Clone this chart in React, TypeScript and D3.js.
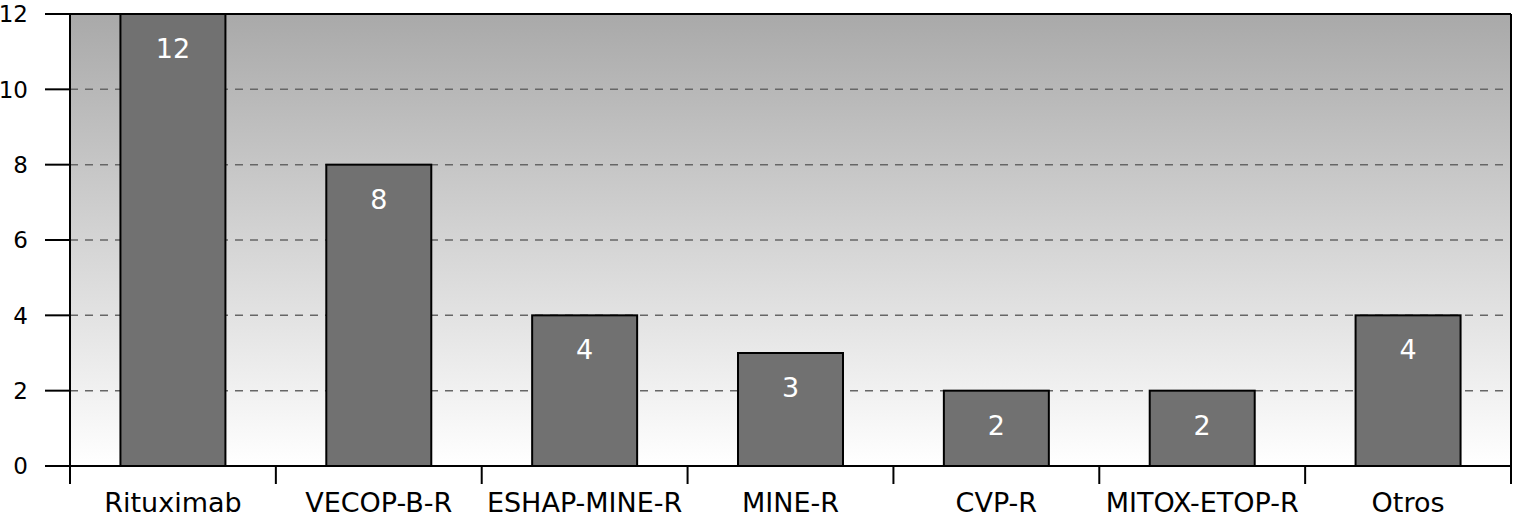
import React from "react";
import * as d3 from "d3";

const categories = ["Rituximab", "VECOP-B-R", "ESHAP-MINE-R", "MINE-R", "CVP-R", "MITOX-ETOP-R", "Otros"];
const values = [12, 8, 4, 3, 2, 2, 4];
const yTicks = [0, 2, 4, 6, 8, 10, 12];

export default function App() {
  const W = 1513, H = 518;
  const left = 70, right = 1511, top = 14, bottom = 466;
  const x = d3.scaleBand<string>().domain(categories).range([left, right]).paddingInner(0).paddingOuter(0);
  const y = d3.scaleLinear().domain([0, 12]).range([bottom, top]);
  const bw = x.bandwidth() * 0.51;
  const font = "'DejaVu Sans', Verdana, sans-serif";
  const edges = categories.map((c) => x(c) as number).concat([right]);
  return (
    <svg width={W} height={H} style={{ position: "absolute", left: 0, top: 0 }}>
      <defs>
        <linearGradient id="bg" x1="0" y1="0" x2="0" y2="1">
          <stop offset="0" stopColor="#a9a9a9" />
          <stop offset="1" stopColor="#ffffff" />
        </linearGradient>
      </defs>
      <rect x={0} y={0} width={W} height={H} fill="#fff" />
      <rect x={left} y={top} width={right - left} height={bottom - top} fill="url(#bg)" />
      {yTicks.filter((t) => t !== 0 && t !== 12).map((t) => (
        <line key={"g" + t} x1={left} x2={right} y1={y(t)} y2={y(t)} stroke="#666" strokeWidth={1.5} strokeDasharray="8 7" />
      ))}
      {yTicks.map((t) => (
        <g key={"t" + t}>
          <line x1={45} x2={left} y1={y(t)} y2={y(t)} stroke="#000" strokeWidth={2} />
          <text x={28} y={y(t)} dy="0.36em" textAnchor="end" fontFamily={font} fontSize={23} fill="#000">{t}</text>
        </g>
      ))}
      {categories.map((c, i) => {
        const cx = (x(c) as number) + x.bandwidth() / 2;
        return (
          <g key={c}>
            <rect x={cx - bw / 2} y={y(values[i])} width={bw} height={bottom - y(values[i])} fill="#717171" stroke="#000" strokeWidth={2} />
            <text x={cx} y={y(values[i]) + 44} textAnchor="middle" fontFamily={font} fontSize={27} fill="#fff">{values[i]}</text>
            <text x={cx} y={512} textAnchor="middle" fontFamily={font} fontSize={27} fill="#000">{c}</text>
          </g>
        );
      })}
      {edges.map((e, i) => (
        <line key={"e" + i} x1={e} x2={e} y1={bottom} y2={484} stroke="#000" strokeWidth={2} />
      ))}
      <line x1={left} x2={right} y1={top} y2={top} stroke="#000" strokeWidth={2} />
      <line x1={left} x2={right} y1={bottom} y2={bottom} stroke="#000" strokeWidth={2} />
      <line x1={left} x2={left} y1={top} y2={bottom} stroke="#000" strokeWidth={2} />
      <line x1={right} x2={right} y1={top} y2={bottom} stroke="#000" strokeWidth={2} />
    </svg>
  );
}
